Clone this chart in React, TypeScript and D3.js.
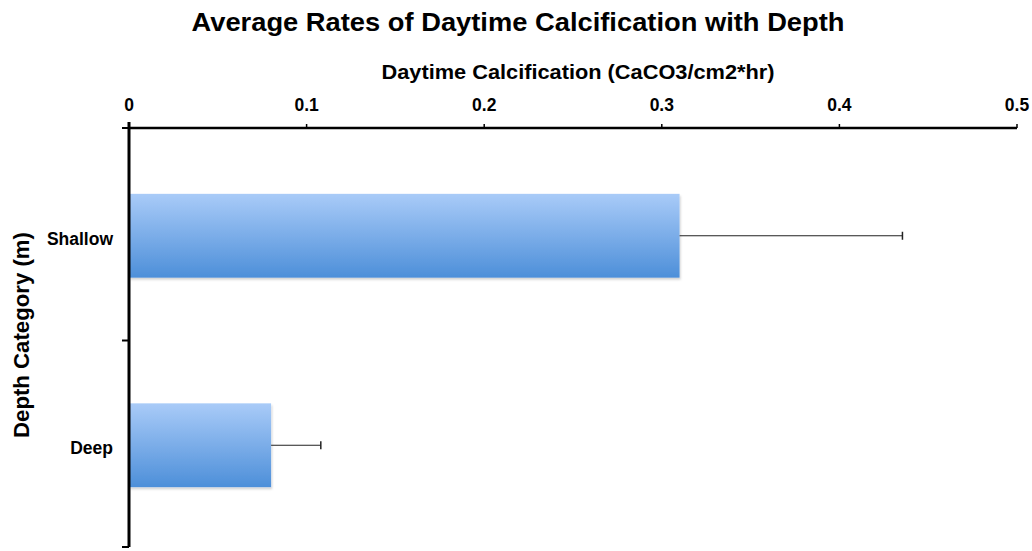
import React from "react";
import * as d3 from "d3";

const categories = ["Shallow", "Deep"];
const values = [0.31, 0.08];
const errors = [0.1255, 0.028];
const xTicks = [0, 0.1, 0.2, 0.3, 0.4, 0.5];

const W = 1032;
const H = 551;
const M = { left: 129, right: 1017, top: 128, bottom: 547 };
const FONT = "'Liberation Sans', Arial, Helvetica, sans-serif";

export default function App() {
  const x = d3.scaleLinear().domain([0, 0.5]).range([M.left, M.right]);
  const y = d3
    .scaleBand<string>()
    .domain(categories)
    .range([M.top + 3, M.bottom + 3])
    .paddingInner(0.6)
    .paddingOuter(0.3);
  const step = y.step();
  const yTicks = [
    M.top,
    ...categories.slice(1).map((c) => y(c)! + y.bandwidth() / 2 - step / 2),
    M.bottom,
  ];

  return (
    <svg
      width={W}
      height={H}
      style={{ position: "absolute", left: 0, top: 0, background: "#fff" }}
      fontFamily={FONT}
    >
      <defs>
        <linearGradient id="barGrad" x1="0" y1="0" x2="0" y2="1">
          <stop offset="0%" stopColor="#a9cbf8" />
          <stop offset="100%" stopColor="#4d8fd9" />
        </linearGradient>
        <filter id="shadow" x="-5%" y="-10%" width="110%" height="130%">
          <feDropShadow dx="1" dy="2" stdDeviation="1.2" floodColor="#000" floodOpacity="0.18" />
        </filter>
      </defs>

      <text x={518} y={31} textAnchor="middle" fontSize={26} fontWeight="bold" fill="#000"
        textLength={653} lengthAdjust="spacingAndGlyphs">
        Average Rates of Daytime Calcification with Depth
      </text>
      <text x={578} y={79} textAnchor="middle" fontSize={20} fontWeight="bold" fill="#000"
        textLength={393} lengthAdjust="spacingAndGlyphs">
        Daytime Calcification (CaCO3/cm2*hr)
      </text>
      <text
        transform={`translate(29, 335) rotate(-90)`}
        textAnchor="middle"
        fontSize={22}
        fontWeight="bold"
        fill="#000"
        textLength={206}
        lengthAdjust="spacingAndGlyphs"
      >
        Depth Category (m)
      </text>

      {categories.map((c, i) => {
        const y0 = y(c)!;
        const bh = y.bandwidth();
        const cy = y0 + bh / 2;
        const xe = x(values[i] + errors[i]);
        return (
          <g key={c}>
            <rect
              x={x(0)}
              y={y0}
              width={x(values[i]) - x(0)}
              height={bh}
              fill="url(#barGrad)"
              filter="url(#shadow)"
            />
            <line x1={x(values[i])} x2={xe} y1={cy} y2={cy} stroke="#222" strokeWidth={1.2} />
            <line x1={xe} x2={xe} y1={cy - 4} y2={cy + 4} stroke="#222" strokeWidth={1.5} />
            <text x={113} y={cy + 9} textAnchor="end" fontSize={17.5} fontWeight="bold" fill="#000">
              {c}
            </text>
          </g>
        );
      })}

      {/* top x axis */}
      <line x1={M.left - 1} x2={M.right} y1={M.top} y2={M.top} stroke="#000" strokeWidth={2.5} />
      {xTicks.map((t) => (
        <g key={t}>
          <line x1={x(t)} x2={x(t)} y1={M.top - 4} y2={M.top} stroke="#000" strokeWidth={1.5} />
          <text x={x(t)} y={M.top - 17} textAnchor="middle" fontSize={17.5} fontWeight="bold" fill="#000">
            {t === 0 ? "0" : d3.format(".1f")(t)}
          </text>
        </g>
      ))}

      {/* left y axis */}
      <line x1={M.left} x2={M.left} y1={M.top - 6} y2={M.bottom} stroke="#000" strokeWidth={3} />
      {yTicks.map((t, i) => (
        <line key={i} x1={M.left - 7} x2={M.left} y1={t} y2={t} stroke="#000" strokeWidth={2} />
      ))}
    </svg>
  );
}
